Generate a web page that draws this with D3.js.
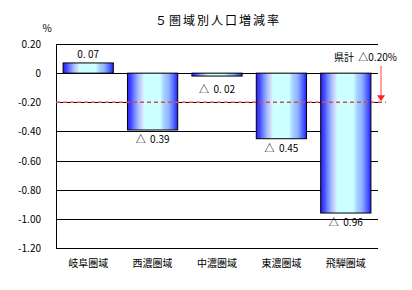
<!DOCTYPE html>
<html>
<head>
<meta charset="utf-8">
<script src="https://cdn.jsdelivr.net/npm/d3@7"></script>
<style>
body { margin:0; background:#fff; }
text { font-family: "Noto Sans CJK JP", sans-serif; white-space: pre; }
</style>
</head>
<body>
<div id="chart"></div>
<script>
// data
var regions = ["岐阜圏域","西濃圏域","中濃圏域","東濃圏域","飛騨圏域"];
var rates = [0.07, -0.39, -0.02, -0.45, -0.96];
var rateLabels = ["0. 07","△  0.39","△  0. 02","△  0.45","△  0.96"];
var prefRate = -0.20;
var yTicks = [0.2, 0, -0.2, -0.4, -0.6, -0.8, -1.0, -1.2];
var yTickLabels = ["0.20","0","-0.20","-0.40","-0.60","-0.80","-1.00","-1.20"];

var svg = d3.select("#chart")
	.append("svg")
	.attr("width",412)
	.attr("height",290);

var x = d3.scaleBand().domain(regions).range([56,378]).paddingInner(0.22).paddingOuter(0.11);
var y = d3.scaleLinear().domain([-1.2,0.2]).range([248,44]);

// gradient for bars
var grad = svg.append("defs").append("linearGradient")
	.attr("id","barGrad").attr("x1","0%").attr("x2","100%").attr("y1","0%").attr("y2","0%");
[[0,"#2020ff"],[0.07,"#4848ff"],[0.14,"#7088ff"],[0.22,"#a8c0ff"],[0.29,"#d4dcff"],[0.33,"#ccffff"],
 [0.65,"#ccffff"],[0.72,"#a8d4ff"],[0.82,"#90b4ff"],[0.91,"#5a70ff"],[1,"#2020ff"]].forEach(function(s){
	grad.append("stop").attr("offset",s[0]).attr("stop-color",s[1]);
});

// gridlines
svg.selectAll(".grid").data(yTicks).enter().append("line")
	.attr("x1",56).attr("x2",378)
	.attr("y1",function(d){ return Math.round(y(d))+0.5; })
	.attr("y2",function(d){ return Math.round(y(d))+0.5; })
	.attr("stroke","#000").attr("stroke-width",1);
svg.append("line").attr("x1",56.5).attr("x2",56.5).attr("y1",44).attr("y2",248.5)
	.attr("stroke","#000");

// tick labels
svg.selectAll(".tick").data(yTicks).enter().append("text")
	.attr("x",41).attr("y",function(d){ return y(d)+4; })
	.attr("text-anchor","end").attr("font-size","10px")
	.text(function(d,i){ return yTickLabels[i]; });

svg.append("text").attr("x",47).attr("y",32).attr("text-anchor","middle")
	.attr("font-size","10px").text("%");

// bars
svg.selectAll(".bar").data(rates).enter().append("rect")
	.attr("x",function(d,i){ return x(regions[i]); })
	.attr("width",x.bandwidth())
	.attr("y",function(d){ return y(Math.max(0,d)); })
	.attr("height",function(d){ return Math.abs(y(d)-y(0)); })
	.attr("fill","url(#barGrad)")
	.attr("stroke","#000").attr("stroke-width",1);

// value labels
svg.selectAll(".val").data(rates).enter().append("text")
	.attr("x",function(d,i){ return x(regions[i])+x.bandwidth()/2; })
	.attr("y",function(d){ return d>0 ? y(d)-5 : (d>-0.1 ? y(0)+20 : y(d)+13); })
	.attr("text-anchor","middle").attr("font-size","10px")
	.text(function(d,i){ return rateLabels[i]; });

// prefecture average
svg.append("line").attr("x1",56).attr("x2",386)
	.attr("y1",y(prefRate)).attr("y2",y(prefRate))
	.attr("stroke","#e04a4a").attr("stroke-width",1.5).attr("stroke-dasharray","4,3");
svg.append("line").attr("x1",381).attr("x2",381).attr("y1",66).attr("y2",y(prefRate)-6)
	.attr("stroke","#ff6060").attr("stroke-width",1.2);
svg.append("path")
	.attr("d","M377,"+(y(prefRate)-7)+" L385,"+(y(prefRate)-7)+" L381,"+(y(prefRate)-1)+" Z")
	.attr("fill","#ff2020");
svg.append("text").attr("x",397).attr("y",61).attr("text-anchor","end")
	.attr("font-size","10px").text("県計  △0.20%");

// x labels
svg.selectAll(".xl").data(regions).enter().append("text")
	.attr("x",function(d){ return x(d)+x.bandwidth()/2; })
	.attr("y",267).attr("text-anchor","middle").attr("font-size","10px")
	.text(function(d){ return d; });

// title
svg.append("text").attr("x",218).attr("y",25).attr("text-anchor","middle")
	.attr("font-size","12px").attr("letter-spacing","2px").text("５圏域別人口増減率");
</script>
</body>
</html>
